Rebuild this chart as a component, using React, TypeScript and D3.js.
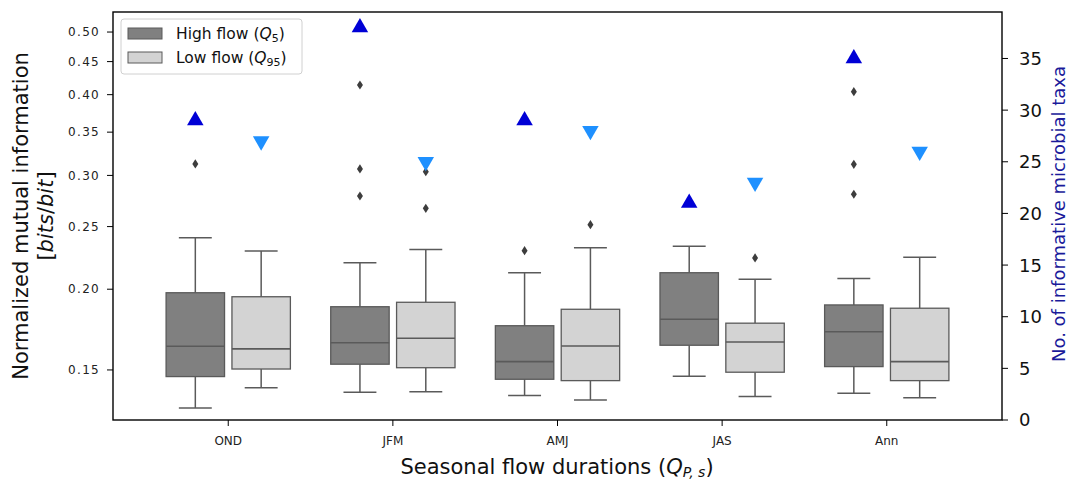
import React from "react";
import * as d3 from "d3";

const categories = ["OND", "JFM", "AMJ", "JAS", "Ann"];

// High flow (Q5) box statistics
const highWhiskerLow = [0.131, 0.1385, 0.1369, 0.1467, 0.138];
const highQ1 = [0.1465, 0.1531, 0.1451, 0.1638, 0.1518];
const highMedian = [0.1632, 0.1653, 0.1545, 0.1797, 0.1719];
const highQ3 = [0.1975, 0.1879, 0.1756, 0.2121, 0.1891];
const highWhiskerHigh = [0.2403, 0.2198, 0.2121, 0.2331, 0.2077];
const highOutliers = [[0.3125], [0.414, 0.307, 0.2788], [0.2294], [], [0.4043, 0.3121, 0.2805]];

// Low flow (Q95) box statistics
const lowWhiskerLow = [0.1408, 0.1388, 0.1348, 0.1364, 0.1359];
const lowQ1 = [0.1505, 0.1512, 0.1444, 0.1488, 0.1444];
const lowMedian = [0.1617, 0.1679, 0.1634, 0.1657, 0.1545];
const lowQ3 = [0.1947, 0.1909, 0.1862, 0.1772, 0.1869];
const lowWhiskerHigh = [0.2292, 0.2303, 0.2319, 0.2072, 0.2241];
const lowOutliers = [[], [0.304, 0.2668], [0.2517], [0.2236], []];

// Number of informative taxa (right axis)
const highTaxa = [29, 38, 29, 21, 35];
const lowTaxa = [27, 25, 28, 23, 26];

const leftTicks = [0.15, 0.2, 0.25, 0.3, 0.35, 0.4, 0.45, 0.5];
const rightTicks = [0, 5, 10, 15, 20, 25, 30, 35];

const FONT = "DejaVu Sans, Verdana, sans-serif";

export default function App() {
  const left = 113, right = 1002, top = 12, bottom = 420;
  const x = d3.scaleLinear().domain([-0.7, 4.7]).range([left, right]);
  const yL = d3.scaleLog().domain([0.1255, 0.537]).range([bottom, top]);
  const yR = d3.scaleLinear().domain([0, 39.5]).range([bottom, top]);

  const unit = x(1) - x(0);
  const boxW = 0.355 * unit;
  const capW = 0.2 * unit;
  const edge = "#5a5a5a";

  const groups = [
    { off: -0.2, fill: "#808080", wl: highWhiskerLow, q1: highQ1, med: highMedian, q3: highQ3, wh: highWhiskerHigh, out: highOutliers },
    { off: 0.2, fill: "#d3d3d3", wl: lowWhiskerLow, q1: lowQ1, med: lowMedian, q3: lowQ3, wh: lowWhiskerHigh, out: lowOutliers },
  ];

  const triUp = d3.symbol().type(d3.symbolTriangle).size(118)() as string;
  const diamond = "M0,-4.6L3,0L0,4.6L-3,0Z";

  return (
    <svg width={1070} height={481} style={{ position: "absolute", left: 0, top: 0, background: "#fff" }} fontFamily={FONT}>
      <rect x={0} y={0} width={1070} height={481} fill="#fff" />
      {/* boxes */}
      {categories.map((c, i) => (
        <g key={c}>
          {groups.map((g, gi) => {
            const cx = x(i + g.off);
            return (
              <g key={gi}>
                <line x1={cx} x2={cx} y1={yL(g.q3[i])} y2={yL(g.wh[i])} stroke={edge} strokeWidth={1.5} />
                <line x1={cx} x2={cx} y1={yL(g.q1[i])} y2={yL(g.wl[i])} stroke={edge} strokeWidth={1.5} />
                <line x1={cx - capW / 2} x2={cx + capW / 2} y1={yL(g.wh[i])} y2={yL(g.wh[i])} stroke={edge} strokeWidth={1.5} />
                <line x1={cx - capW / 2} x2={cx + capW / 2} y1={yL(g.wl[i])} y2={yL(g.wl[i])} stroke={edge} strokeWidth={1.5} />
                <rect x={cx - boxW / 2} y={yL(g.q3[i])} width={boxW} height={yL(g.q1[i]) - yL(g.q3[i])} fill={g.fill} stroke={edge} strokeWidth={1.3} />
                <line x1={cx - boxW / 2} x2={cx + boxW / 2} y1={yL(g.med[i])} y2={yL(g.med[i])} stroke={edge} strokeWidth={1.6} />
                {g.out[i].map((v, k) => (
                  <path key={k} d={diamond} transform={`translate(${cx},${yL(v)})`} fill="#3d3d3d" />
                ))}
              </g>
            );
          })}
        </g>
      ))}
      {/* taxa markers */}
      {categories.map((c, i) => (
        <g key={"t" + c}>
          <path d={triUp} transform={`translate(${x(i - 0.2)},${yR(highTaxa[i])})`} fill="#0000d6" />
          <path d={triUp} transform={`translate(${x(i + 0.2)},${yR(lowTaxa[i])}) rotate(180)`} fill="#1e90ff" />
        </g>
      ))}
      {/* frame */}
      <rect x={left} y={top} width={right - left} height={bottom - top} fill="none" stroke="#000" strokeWidth={1.4} />
      {/* left axis */}
      {leftTicks.map((t) => (
        <g key={"l" + t}>
          <line x1={left - 6} x2={left} y1={yL(t)} y2={yL(t)} stroke="#000" strokeWidth={1} />
          <text x={100} y={yL(t)} dy="0.35em" textAnchor="end" fontSize={12} letterSpacing={1.3} fill="#222">
            {t.toFixed(2)}
          </text>
        </g>
      ))}
      {/* right axis */}
      {rightTicks.map((t) => (
        <g key={"r" + t}>
          <line x1={right} x2={right + 6} y1={yR(t)} y2={yR(t)} stroke="#000" strokeWidth={1} />
          <text x={1019} y={yR(t)} dy="0.36em" textAnchor="start" fontSize={18} fill="#111">
            {t}
          </text>
        </g>
      ))}
      {/* x axis */}
      {categories.map((c, i) => (
        <g key={"x" + c}>
          <line x1={x(i)} x2={x(i)} y1={bottom} y2={bottom + 6} stroke="#000" strokeWidth={1} />
          <text x={x(i)} y={445} textAnchor="middle" fontSize={12} fill="#222">{c}</text>
        </g>
      ))}
      {/* axis labels */}
      <text transform="translate(21,216) rotate(-90)" textAnchor="middle" dominantBaseline="central" fontSize={21} fill="#111">
        Normalized mutual information
      </text>
      <text transform="translate(46,216) rotate(-90)" textAnchor="middle" dominantBaseline="central" fontSize={21} fill="#111">
        [<tspan fontStyle="italic">bits</tspan>/<tspan fontStyle="italic">bit</tspan>]
      </text>
      <text transform="translate(1058,214) rotate(-90)" textAnchor="middle" dominantBaseline="central" fontSize={18} fill="#1a1a9a">
        No. of informative microbial taxa
      </text>
      <text x={557} y={474} textAnchor="middle" fontSize={21} fill="#111">
        Seasonal flow durations (<tspan fontStyle="italic">Q</tspan>
        <tspan fontStyle="italic" fontSize={14} dy={3}>P, s</tspan>
        <tspan dy={-3}>)</tspan>
      </text>
      {/* legend */}
      <rect x={121} y={19} width={181} height={55} rx={3} fill="#fff" fillOpacity={0.85} stroke="#d0d0d0" strokeWidth={1} />
      <rect x={128} y={28} width={34} height={11} fill="#808080" stroke={edge} strokeWidth={1} />
      <rect x={128} y={52} width={34} height={11} fill="#d3d3d3" stroke={edge} strokeWidth={1} />
      <text x={176} y={39} fontSize={15.5} fill="#111">
        High flow (<tspan fontStyle="italic">Q</tspan><tspan fontSize={11} dy={3}>5</tspan><tspan dy={-3}>)</tspan>
      </text>
      <text x={176} y={63} fontSize={15.5} fill="#111">
        Low flow (<tspan fontStyle="italic">Q</tspan><tspan fontSize={11} dy={3}>95</tspan><tspan dy={-3}>)</tspan>
      </text>
    </svg>
  );
}
